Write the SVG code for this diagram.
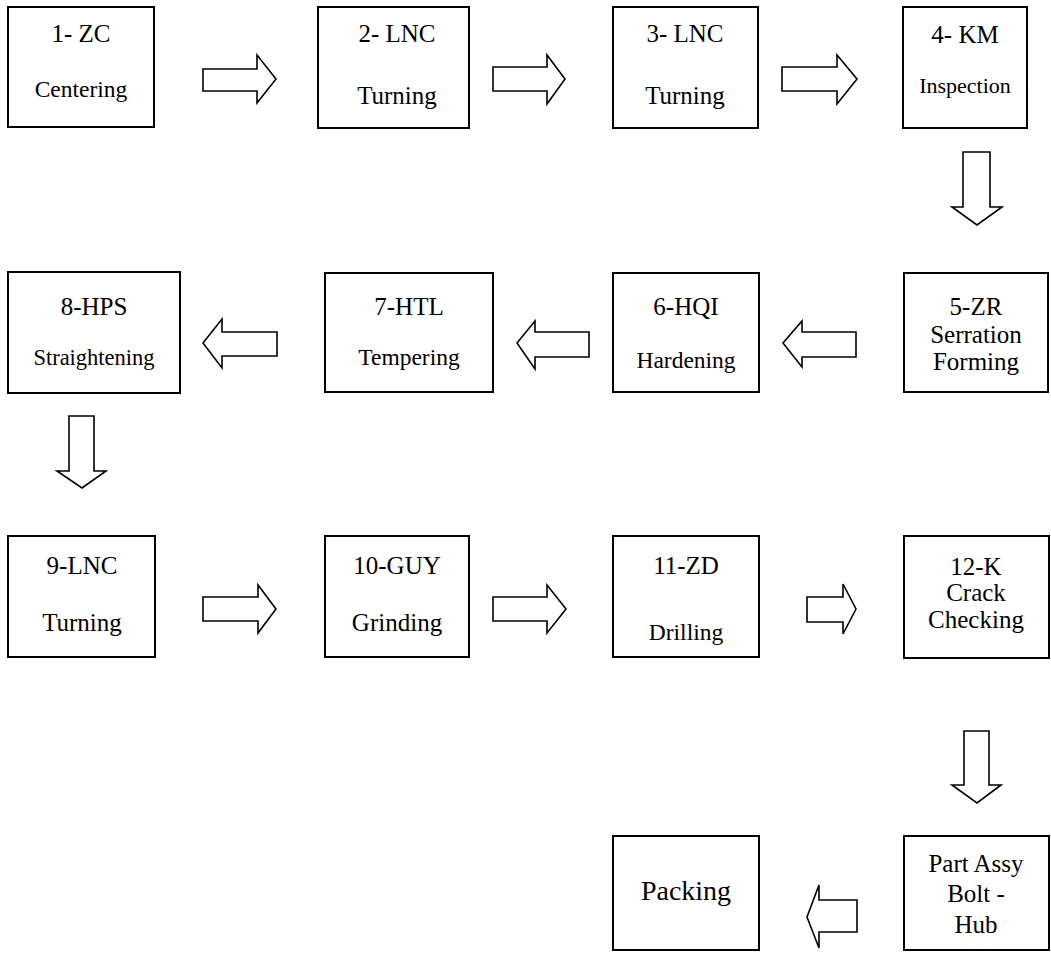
<svg xmlns="http://www.w3.org/2000/svg" width="1051" height="953" viewBox="0 0 1051 953">
<style>
.box{fill:#fff;stroke:#000;stroke-width:2}
.arr{fill:#fff;stroke:#000;stroke-width:1.6;stroke-linejoin:miter}
text{font-family:"Liberation Serif","Times New Roman",serif;fill:#000;text-anchor:middle}
.t{font-size:25px}
.s{font-size:23.5px}
.p{font-size:28px}
</style>
<rect width="1051" height="953" fill="#fff"/>
<g id="connectors">
<polygon class="arr" points="203,69 257,69 257,55 276,79 257,103 257,91 203,91"/>
<polygon class="arr" points="493,67 547,67 547,55 565,79 547,104 547,91 493,91"/>
<polygon class="arr" points="782,67 837,67 837,55 857,79 837,104 837,91 782,91"/>
<polygon class="arr" points="963,152 990,152 990,207 1002,207 977,225 952,207 963,207"/>
<polygon class="arr" points="856,332 856,357 802,357 802,367 783,343 802,321 802,332"/>
<polygon class="arr" points="589,332 589,357 535,357 535,369 517,343 535,321 535,332"/>
<polygon class="arr" points="277,332 277,356 222,356 222,368 203,343 222,319 222,332"/>
<polygon class="arr" points="69,416 94,416 94,471 106,471 82,488 57,471 69,471"/>
<polygon class="arr" points="203,597 258,597 258,585 276,609 258,633 258,621 203,621"/>
<polygon class="arr" points="493,597 547,597 547,585 566,609 547,633 547,621 493,621"/>
<polygon class="arr" points="807,597 843,597 843,584 856,609 843,634 843,622 807,622"/>
<polygon class="arr" points="964,731 989,731 989,785 1001,785 977,803 952,785 964,785"/>
<polygon class="arr" points="857,900 857,932 819,932 819,948 807,917 819,885 819,900"/>
</g>
<g id="n1"><rect class="box" x="8" y="7" width="146" height="120"/><text class="t" x="81" y="42">1- ZC</text><text class="s" x="81" y="97">Centering</text></g>
<g id="n2"><rect class="box" x="318" y="7" width="151" height="121"/><text class="t" x="397" y="42">2- LNC</text><text class="t" x="397" y="104">Turning</text></g>
<g id="n3"><rect class="box" x="613" y="7" width="145" height="121"/><text class="t" x="685" y="42">3- LNC</text><text class="t" x="685" y="104">Turning</text></g>
<g id="n4"><rect class="box" x="903" y="7" width="124" height="121"/><text class="t" x="965" y="43">4- KM</text><text class="s" x="965" y="93" style="font-size:22px">Inspection</text></g>
<g id="n5"><rect class="box" x="904" y="273" width="144" height="119"/><text class="t" x="976" y="315">5-ZR</text><text class="t" x="976" y="343">Serration</text><text class="t" x="976" y="370">Forming</text></g>
<g id="n6"><rect class="box" x="613" y="273" width="146" height="119"/><text class="t" x="686" y="315">6-HQI</text><text class="s" x="686" y="368">Hardening</text></g>
<g id="n7"><rect class="box" x="325" y="273" width="168" height="119"/><text class="t" x="409" y="315">7-HTL</text><text class="s" x="409" y="365">Tempering</text></g>
<g id="n8"><rect class="box" x="8" y="272" width="172" height="121"/><text class="t" x="94" y="315">8-HPS</text><text class="s" x="94" y="365" style="font-size:22.5px">Straightening</text></g>
<g id="n9"><rect class="box" x="8" y="536" width="147" height="121"/><text class="t" x="82" y="574">9-LNC</text><text class="t" x="82" y="631">Turning</text></g>
<g id="n10"><rect class="box" x="325" y="536" width="144" height="121"/><text class="t" x="397" y="574">10-GUY</text><text class="t" x="397" y="631">Grinding</text></g>
<g id="n11"><rect class="box" x="613" y="536" width="146" height="121"/><text class="t" x="686" y="574">11-ZD</text><text class="s" x="686" y="640">Drilling</text></g>
<g id="n12"><rect class="box" x="904" y="536" width="145" height="122"/><text class="t" x="976" y="575">12-K</text><text class="t" x="976" y="601">Crack</text><text class="t" x="976" y="628">Checking</text></g>
<g id="n13"><rect class="box" x="904" y="836" width="145" height="114"/><text class="t" x="976" y="872">Part Assy</text><text class="t" x="976" y="902">Bolt -</text><text class="t" x="976" y="933">Hub</text></g>
<g id="n14"><rect class="box" x="613" y="836" width="146" height="114"/><text class="p" x="686" y="900">Packing</text></g>
</svg>
